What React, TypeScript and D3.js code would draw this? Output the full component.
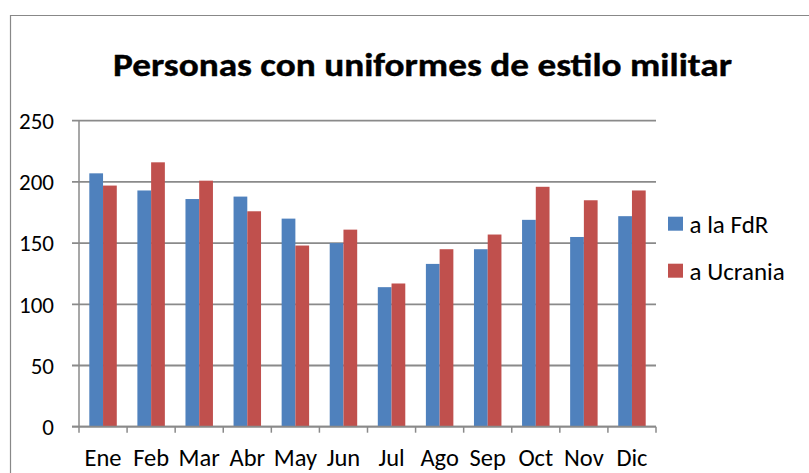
import React from "react";
import * as d3 from "d3";

const categories = ["Ene", "Feb", "Mar", "Abr", "May", "Jun", "Jul", "Ago", "Sep", "Oct", "Nov", "Dic"];
const seriesNames = ["a la FdR", "a Ucrania"];
const fdrValues = [207, 193, 186, 188, 170, 150, 114, 133, 145, 169, 155, 172];
const ucraniaValues = [197, 216, 201, 176, 148, 161, 117, 145, 157, 196, 185, 193];
const yTicks = [0, 50, 100, 150, 200, 250];
const colors = ["#4F81BD", "#C0504D"];
const title = "Personas con uniformes de estilo militar";

const W = 809;
const H = 473;
const plot = { left: 79, right: 656, top: 120.7, bottom: 426.7 };
const FONT = "Carlito, Calibri, Lato, sans-serif";
const GRID = "#8a8a8a";

export default function App() {
  const x = d3.scaleBand<string>().domain(categories).range([plot.left, plot.right]).padding(0);
  const cw = x.bandwidth();
  const barW = cw / 3.5;
  const inner = d3
    .scaleBand<string>()
    .domain(seriesNames)
    .range([(cw - 2 * barW) / 2, (cw + 2 * barW) / 2])
    .padding(0);
  const y = d3.scaleLinear().domain([0, 250]).range([plot.bottom, plot.top]);
  const series = [fdrValues, ucraniaValues];
  const boundaries = categories.map((c) => x(c) as number).concat([plot.right]);

  return (
    <svg
      width={W}
      height={H}
      style={{ position: "absolute", left: 0, top: 0, background: "#fff" }}
      fontFamily={FONT}
    >
      <rect x={0} y={0} width={W} height={H} fill="#fff" />
      {/* chart frame */}
      <path d={`M10.5,${H} V15.5 H${W}`} fill="none" stroke="#888" strokeWidth={1.2} />

      <text
        x={422.5}
        y={76}
        textAnchor="middle"
        fontSize={32.5}
        fontWeight="bold"
        fill="#000"
        stroke="#000"
        strokeWidth={0.4}
        textLength={619}
        lengthAdjust="spacingAndGlyphs"
      >
        {title}
      </text>

      {/* gridlines + y ticks */}
      {yTicks.map((t) => (
        <g key={t}>
          <line x1={72} x2={plot.right} y1={y(t)} y2={y(t)} stroke={GRID} strokeWidth={1.8} />
          <text x={54} y={y(t)} dy="0.36em" textAnchor="end" fontSize={23} fill="#000">
            {t}
          </text>
        </g>
      ))}

      {/* y axis line */}
      <line x1={plot.left} x2={plot.left} y1={plot.top} y2={plot.bottom} stroke={GRID} strokeWidth={1.5} />

      {/* bars */}
      {categories.map((c, i) => (
        <g key={c} transform={`translate(${x(c)},0)`}>
          {series.map((vals, s) => (
            <rect
              key={s}
              x={inner(seriesNames[s]) as number}
              y={y(vals[i])}
              width={inner.bandwidth()}
              height={y(0) - y(vals[i])}
              fill={colors[s]}
            />
          ))}
        </g>
      ))}

      {/* x axis line and ticks */}
      <line x1={72} x2={plot.right} y1={plot.bottom} y2={plot.bottom} stroke={GRID} strokeWidth={1.8} />
      {boundaries.map((b, i) => (
        <line key={i} x1={b} x2={b} y1={plot.bottom} y2={plot.bottom + 6} stroke={GRID} strokeWidth={1.5} />
      ))}
      {categories.map((c) => (
        <text key={c} x={(x(c) as number) + cw / 2} y={466} textAnchor="middle" fontSize={24.5} fill="#000">
          {c}
        </text>
      ))}

      {/* legend */}
      {seriesNames.map((n, i) => (
        <g key={n} transform={`translate(668,${216.7 + i * 47})`}>
          <rect x={0} y={0} width={15} height={14} fill={colors[i]} />
          <text x={21.5} y={15.8} fontSize={25} fill="#000">
            {n}
          </text>
        </g>
      ))}
    </svg>
  );
}
